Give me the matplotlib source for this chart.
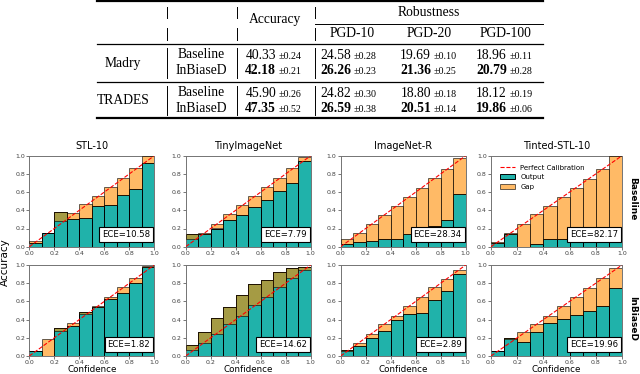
import numpy as np
import matplotlib
matplotlib.use("Agg")
import matplotlib.pyplot as plt
from matplotlib.lines import Line2D
from matplotlib.patches import Patch

W, H = 640, 374

# ---- table data ----
method_names = ["Madry", "TRADES"]
variant_names = ["Baseline", "InBiaseD"]
attack_names = ["PGD-10", "PGD-20", "PGD-100"]
madry_mean = [[40.33, 24.58, 19.69, 18.96], [42.18, 26.26, 21.36, 20.79]]
madry_std = [[0.24, 0.28, 0.10, 0.11], [0.21, 0.23, 0.25, 0.28]]
trades_mean = [[45.90, 24.82, 18.80, 18.12], [47.35, 26.59, 20.51, 19.86]]
trades_std = [[0.26, 0.30, 0.18, 0.19], [0.52, 0.38, 0.14, 0.06]]

# ---- reliability diagrams: per-bin accuracy (Output) and mean confidence ----
dataset_names = ["STL-10", "TinyImageNet", "ImageNet-R", "Tinted-STL-10"]
row_names = ["Baseline", "InBiaseD"]

stl_base_acc = [0.045, 0.155, 0.38, 0.30, 0.31, 0.445, 0.455, 0.565, 0.63, 0.915]
stl_base_conf = [0.06, 0.155, 0.285, 0.365, 0.465, 0.555, 0.655, 0.755, 0.86, 0.995]
tin_base_acc = [0.14, 0.145, 0.20, 0.29, 0.345, 0.435, 0.51, 0.615, 0.705, 0.94]
tin_base_conf = [0.085, 0.155, 0.25, 0.355, 0.455, 0.555, 0.655, 0.755, 0.86, 0.985]
imr_base_acc = [0.025, 0.05, 0.06, 0.085, 0.085, 0.145, 0.145, 0.225, 0.295, 0.58]
imr_base_conf = [0.08, 0.15, 0.245, 0.35, 0.45, 0.55, 0.65, 0.75, 0.855, 0.97]
tstl_base_acc = [0.04, 0.145, 0.0, 0.03, 0.08, 0.08, 0.08, 0.08, 0.08, 0.135]
tstl_base_conf = [0.05, 0.15, 0.25, 0.36, 0.445, 0.55, 0.65, 0.745, 0.855, 1.0]

stl_ours_acc = [0.05, 0.0, 0.305, 0.335, 0.48, 0.54, 0.63, 0.69, 0.80, 0.975]
stl_ours_conf = [0.05, 0.19, 0.27, 0.365, 0.46, 0.55, 0.65, 0.755, 0.86, 0.99]
tin_ours_acc = [0.12, 0.265, 0.415, 0.54, 0.665, 0.795, 0.83, 0.92, 0.965, 0.975]
tin_ours_conf = [0.065, 0.145, 0.245, 0.35, 0.445, 0.555, 0.65, 0.755, 0.855, 0.94]
imr_ours_acc = [0.065, 0.115, 0.20, 0.28, 0.40, 0.46, 0.475, 0.61, 0.71, 0.90]
imr_ours_conf = [0.05, 0.145, 0.245, 0.35, 0.445, 0.55, 0.65, 0.76, 0.85, 0.95]
tstl_ours_acc = [0.05, 0.20, 0.15, 0.265, 0.365, 0.405, 0.45, 0.495, 0.55, 0.75]
tstl_ours_conf = [0.05, 0.19, 0.265, 0.35, 0.445, 0.55, 0.65, 0.75, 0.855, 0.97]

ece_baseline = [10.58, 7.79, 28.34, 82.17]
ece_ours = [1.82, 14.62, 2.89, 19.96]

panels = [
    [(stl_base_acc, stl_base_conf), (tin_base_acc, tin_base_conf),
     (imr_base_acc, imr_base_conf), (tstl_base_acc, tstl_base_conf)],
    [(stl_ours_acc, stl_ours_conf), (tin_ours_acc, tin_ours_conf),
     (imr_ours_acc, imr_ours_conf), (tstl_ours_acc, tstl_ours_conf)],
]
eces = [ece_baseline, ece_ours]

TEAL = "#20b2aa"
ORANGE = "#ff8c00"
SERIF = "Liberation Serif"


def fx(px):
    return px / W


def fy(py):
    return 1 - py / H


def hline(fig, y, x0, x1, lw):
    fig.add_artist(Line2D([fx(x0), fx(x1)], [fy(y), fy(y)], color="black", lw=lw))


def vline(fig, x, y0, y1):
    fig.add_artist(Line2D([fx(x), fx(x)], [fy(y0), fy(y1)], color="black", lw=0.7))


def draw_table(fig):
    left, right = 97, 543
    hline(fig, 1, left, right, 1.6)
    hline(fig, 44, left, right, 0.9)
    hline(fig, 82, left, right, 0.9)
    hline(fig, 118, left, right, 1.6)
    hline(fig, 23.5, 315, right, 0.7)
    for x in [167, 237, 315]:
        for y0, y1 in [(7, 18), (28, 40), (48, 78), (86, 115)]:
            vline(fig, x, y0, y1)

    fs = 9.8
    fig.text(fx(275), fy(19), "Accuracy", ha="center", va="center", fontsize=fs, family=SERIF)
    fig.text(fx(429), fy(12), "Robustness", ha="center", va="center", fontsize=fs, family=SERIF)
    for x, name in zip([352, 429, 506], attack_names):
        fig.text(fx(x), fy(33.5), name, ha="center", va="center", fontsize=fs, family=SERIF)

    num_right = [276, 351, 431, 507]
    blocks = [(madry_mean, madry_std, [55, 70], 63), (trades_mean, trades_std, [93, 108], 100)]
    for name, (means, stds, ys, ylab) in zip(method_names, blocks):
        fig.text(fx(123), fy(ylab), name, ha="center", va="center", fontsize=fs, family=SERIF)
        for r, (variant, y) in enumerate(zip(variant_names, ys)):
            fig.text(fx(201), fy(y), variant, ha="center", va="center", fontsize=fs, family=SERIF)
            weight = "bold" if r == 1 else "normal"
            for c, xr in enumerate(num_right):
                fig.text(fx(xr), fy(y + 4), f"{means[r][c]:.2f}", ha="right",
                         va="baseline", fontsize=fs, family=SERIF, weight=weight)
                fig.text(fx(xr + 2.5), fy(y + 4), f"\u00b1{stds[r][c]:.2f}", ha="left",
                         va="baseline", fontsize=7.2, family=SERIF)


def draw_reliability(ax, acc, conf, ece, legend):
    centers = (np.arange(10) + 0.5) / 10
    acc = np.asarray(acc)
    conf = np.asarray(conf)
    ax.bar(centers, acc, width=0.1, color=TEAL, edgecolor="black", lw=0.7,
           label="Output", zorder=2)
    ax.bar(centers, conf - acc, bottom=acc, width=0.1, color=ORANGE, edgecolor="black",
           lw=0.7, alpha=0.6, label="Gap", zorder=3)
    ax.plot([0, 1], [0, 1], "--", color="red", lw=0.8, label="Perfect Calibration", zorder=4)
    ax.set_xlim(0, 1)
    ax.set_ylim(0, 1)
    ticks = np.arange(0, 1.01, 0.2)
    ax.set_xticks(ticks)
    ax.set_yticks(ticks)
    ax.set_xticklabels([f"{t:.1f}" for t in ticks])
    ax.set_yticklabels([f"{t:.1f}" for t in ticks])
    ax.tick_params(labelsize=4.5, length=2, width=0.5, pad=1.0, colors="0.25")
    for s in ax.spines.values():
        s.set_color("0.45")
        s.set_linewidth(0.7)
    ax.text(0.968, 0.08, f"ECE={ece:.2f}", transform=ax.transAxes, ha="right", va="bottom",
            fontsize=6.1, zorder=6,
            bbox=dict(boxstyle="square,pad=0.35", fc="white", ec="black", lw=0.8))
    if legend:
        handles = [
            Line2D([0], [0], ls="--", color="red", lw=0.8),
            Patch(facecolor=TEAL, edgecolor="black", lw=0.7),
            Patch(facecolor=ORANGE, edgecolor="black", lw=0.7, alpha=0.6),
        ]
        ax.legend(handles, ["Perfect Calibration", "Output", "Gap"], loc="upper left",
                  fontsize=5, frameon=False, handlelength=2.2, handletextpad=0.7,
                  borderaxespad=0.9, labelspacing=0.5)


def main():
    fig = plt.figure(figsize=(6.4, 3.74), dpi=100)
    draw_table(fig)

    col_left = [29.3, 185.7, 340.7, 491.0]
    col_width = [125, 125, 125, 131]
    row_top = [155.7, 265.0]
    row_h = 91

    for r in range(2):
        for c in range(4):
            rect = [fx(col_left[c]), fy(row_top[r] + row_h), col_width[c] / W, row_h / H]
            ax = fig.add_axes(rect)
            acc, conf = panels[r][c]
            draw_reliability(ax, acc, conf, eces[r][c], legend=(r == 0 and c == 3))
            if r == 0:
                ax.set_title(dataset_names[c], fontsize=7, pad=5)
            else:
                ax.set_xlabel("Confidence", fontsize=6.3)
                ax.xaxis.set_label_coords(0.5, -0.1)

    fig.text(fx(5), fy(262), "Accuracy", rotation=90, ha="center", va="center", fontsize=7.5)
    fig.text(fx(633), fy(199), row_names[0], rotation=270, ha="center", va="center",
             fontsize=6.5, weight="bold")
    fig.text(fx(633), fy(318), row_names[1], rotation=270, ha="center", va="center",
             fontsize=6.5, weight="bold")

    fig.savefig("out.png", dpi=100)


if __name__ == "__main__":
    main()
